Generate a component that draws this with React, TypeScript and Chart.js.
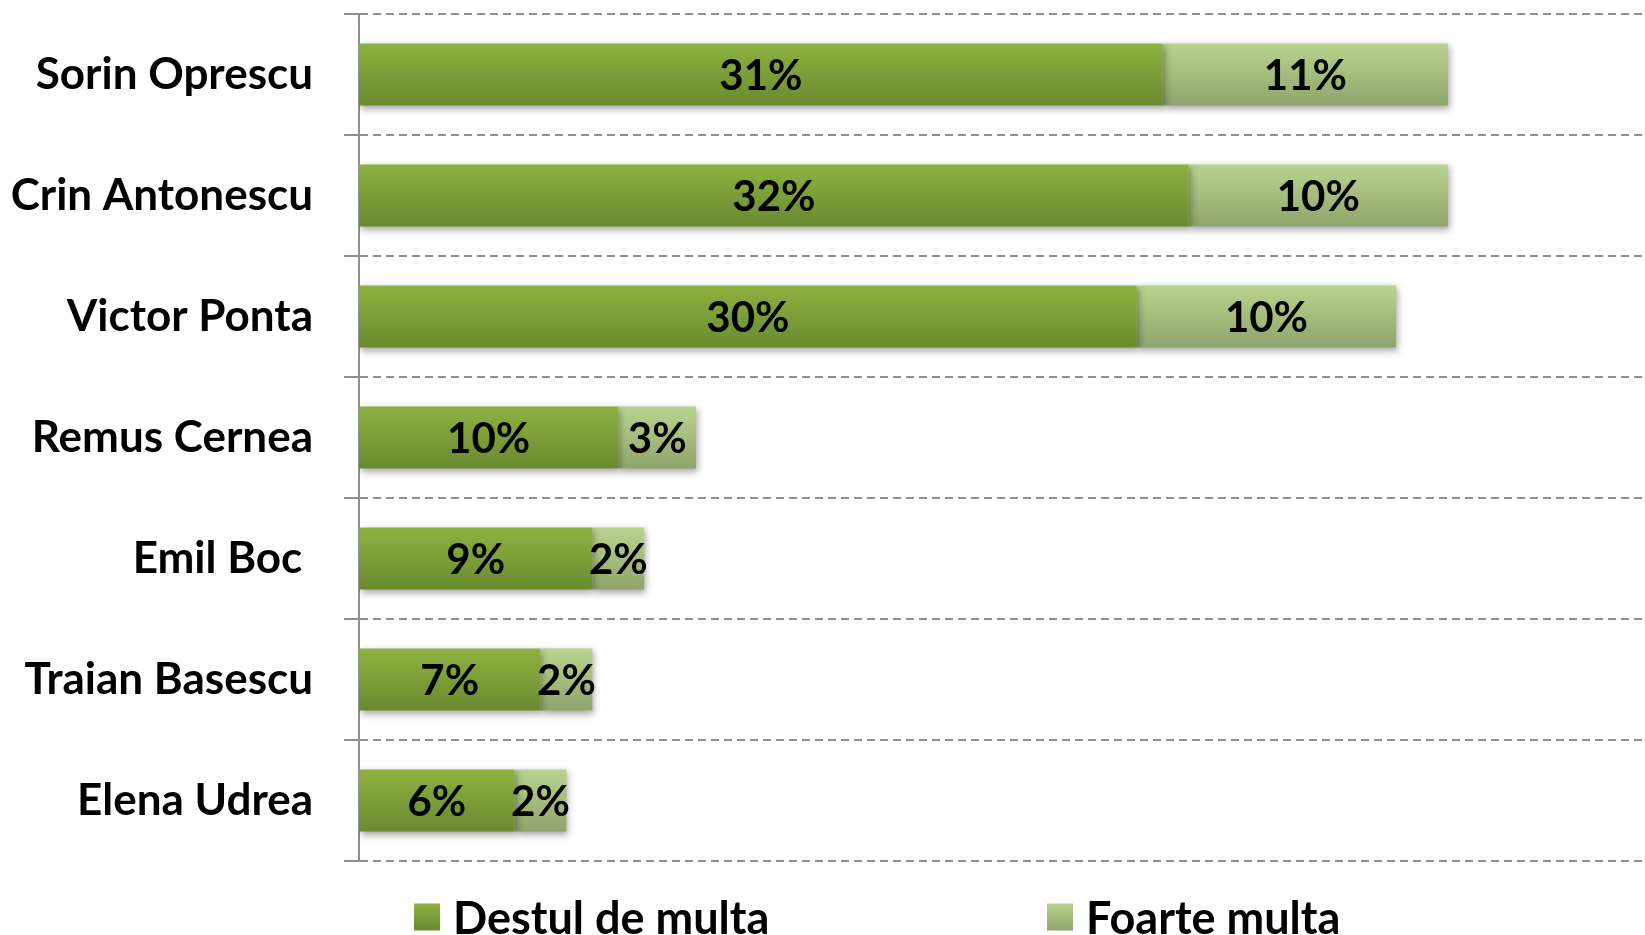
import React, { useEffect, useRef } from "react";
import { Chart, registerables } from "chart.js";

Chart.register(...registerables);

const categories = [
  "Sorin Oprescu",
  "Crin Antonescu",
  "Victor Ponta",
  "Remus Cernea",
  "Emil Boc ",
  "Traian Basescu",
  "Elena Udrea",
];
const destulValues = [31, 32, 30, 10, 9, 7, 6];
const foarteValues = [11, 10, 10, 3, 2, 2, 2];
const seriesNames = ["Destul de multa", "Foarte multa"];

const darkStops = ["#8DB240", "#6A8A30"];
const lightStops = ["#B9D48E", "#8FA46C"];
const BAR_PCT = 0.513;
const FONT_FAMILY = "Lato, 'Open Sans', sans-serif";
const TICK_SIZE = 44;
const LABEL_SIZE = 42;
const LEGEND_SIZE = 45;

function barGradient(stops: string[]) {
  return (ctx: any) => {
    const chart = ctx.chart;
    const area = chart.chartArea;
    const y = chart.scales && chart.scales.y;
    if (!area || !y || ctx.dataIndex === undefined) return stops[0];
    const c = y.getPixelForValue(ctx.dataIndex);
    const pitch = (area.bottom - area.top) / categories.length;
    const half = (pitch * BAR_PCT) / 2;
    const g = chart.ctx.createLinearGradient(0, c - half, 0, c + half);
    g.addColorStop(0, stops[0]);
    g.addColorStop(1, stops[1]);
    return g;
  };
}

const shadowAndLabels = {
  id: "shadowAndLabels",
  beforeDatasetsDraw(chart: any) {
    const ctx = chart.ctx;
    ctx.save();
    ctx.shadowColor = "rgba(0,0,0,0.35)";
    ctx.shadowBlur = 7;
    ctx.shadowOffsetX = 2;
    ctx.shadowOffsetY = 3;
  },
  afterDatasetsDraw(chart: any) {
    const ctx = chart.ctx;
    ctx.restore();
    ctx.save();
    ctx.font = `bold ${LABEL_SIZE}px ${FONT_FAMILY}`;
    ctx.fillStyle = "#000";
    ctx.textAlign = "center";
    ctx.textBaseline = "middle";
    chart.data.datasets.forEach((ds: any, di: number) => {
      const meta = chart.getDatasetMeta(di);
      meta.data.forEach((el: any, i: number) => {
        const v = ds.data[i];
        const cx = (el.x + el.base) / 2;
        ctx.fillText(`${v}%`, cx, el.y + 2);
      });
    });
    ctx.restore();
  },
};

const customLegend = {
  id: "customLegend",
  afterDraw(chart: any) {
    const ctx = chart.ctx;
    const area = chart.chartArea;
    const yc = 917;
    const size = 27;
    const xs = [area.left + 55, area.left + 688];
    const stopsList = [darkStops, lightStops];
    ctx.save();
    ctx.font = `bold ${LEGEND_SIZE}px ${FONT_FAMILY}`;
    ctx.textAlign = "left";
    ctx.textBaseline = "middle";
    seriesNames.forEach((name, i) => {
      const x = xs[i];
      const g = ctx.createLinearGradient(0, yc - size / 2, 0, yc + size / 2);
      g.addColorStop(0, stopsList[i][0]);
      g.addColorStop(1, stopsList[i][1]);
      ctx.fillStyle = g;
      ctx.fillRect(x, yc - size / 2, size - 1, size);
      ctx.fillStyle = "#000";
      ctx.fillText(name, x + size + 12, yc + 2);
    });
    ctx.restore();
  },
};

export default function App() {
  const ref = useRef<HTMLCanvasElement | null>(null);

  useEffect(() => {
    if (!ref.current) return;
    const chart = new Chart(ref.current, {
      type: "bar",
      data: {
        labels: categories,
        datasets: [
          {
            label: seriesNames[0],
            data: destulValues,
            backgroundColor: barGradient(darkStops),
            borderWidth: 0,
            barPercentage: BAR_PCT,
            categoryPercentage: 1,
          },
          {
            label: seriesNames[1],
            data: foarteValues,
            backgroundColor: barGradient(lightStops),
            borderWidth: 0,
            barPercentage: BAR_PCT,
            categoryPercentage: 1,
          },
        ],
      },
      options: {
        indexAxis: "y",
        responsive: false,
        animation: false,
        devicePixelRatio: 1,
        layout: { padding: { top: 14, bottom: 74, left: 0, right: 0 } },
        plugins: {
          legend: { display: false },
          tooltip: { enabled: false },
          title: { display: false },
        },
        scales: {
          x: {
            stacked: true,
            display: false,
            min: 0,
            max: 49.6,
          },
          y: {
            stacked: true,
            afterFit: (s: any) => {
              s.width = 359;
              s.paddingTop = 0;
              s.paddingBottom = 0;
            },
            grid: {
              color: "#8F8F8F",
              lineWidth: 2,
              tickLength: 15,
              offset: true,
              drawTicks: true,
              tickBorderDash: [],
            },
            border: { display: true, color: "#8F8F8F", width: 2, dash: [8, 5] },
            ticks: {
              color: "#000",
              font: { family: FONT_FAMILY, weight: "bold", size: TICK_SIZE },
              padding: 31,
            },
          },
        },
      } as any,
      plugins: [shadowAndLabels, customLegend],
    });
    return () => chart.destroy();
  }, []);

  return (
    <div style={{ position: "fixed", left: 0, top: 0, width: 1645, height: 935, background: "#fff" }}>
      <canvas ref={ref} width={1645} height={935} style={{ width: 1645, height: 935, display: "block" }} />
    </div>
  );
}
